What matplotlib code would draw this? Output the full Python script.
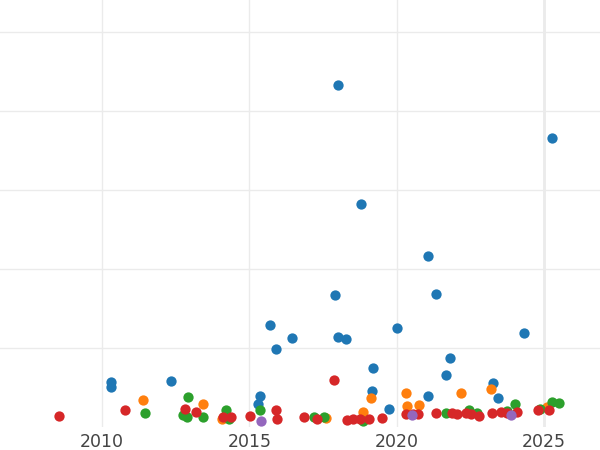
import matplotlib
matplotlib.use("Agg")
import matplotlib.pyplot as plt

# points per group: (year, value)
blue_x = [2018.01, 2025.26, 2018.80, 2021.05, 2017.92, 2021.33, 2015.70, 2020.00, 2024.32,
          2016.46, 2018.00, 2018.28, 2015.89, 2021.80, 2019.20, 2021.66, 2010.31, 2010.31,
          2012.35, 2023.28, 2019.17, 2015.35, 2023.45, 2021.06, 2015.28, 2019.73]
blue_y = [432.9, 366.2, 282.3, 216.1, 166.7, 168.0, 129.1, 125.7, 118.6,
          112.3, 114.3, 111.4, 98.4, 87.0, 74.3, 65.2, 56.6, 51.0,
          58.6, 55.3, 45.6, 39.2, 37.3, 39.2, 28.7, 22.8]

orange_x = [2011.40, 2013.43, 2014.08, 2019.14, 2018.86, 2017.61, 2020.32, 2020.34,
            2020.76, 2022.17, 2023.19, 2025.09]
orange_y = [33.8, 28.7, 10.5, 36.1, 19.4, 11.8, 43.0, 27.0,
            27.5, 43.3, 47.5, 25.7]

green_x = [2011.47, 2012.91, 2012.76, 2012.89, 2013.43, 2014.21, 2014.31, 2015.37,
           2017.21, 2017.54, 2018.87, 2021.68, 2022.46, 2022.71, 2023.73, 2024.01,
           2024.86, 2025.28, 2025.51]
green_y = [17.7, 38.4, 15.6, 13.0, 13.0, 21.1, 9.7, 21.1,
           12.9, 13.0, 8.2, 18.0, 21.1, 18.1, 20.6, 28.5,
           23.2, 31.9, 30.0]

red_x = [2008.53, 2010.79, 2012.81, 2013.20, 2014.12, 2014.39, 2015.02, 2015.89,
         2015.95, 2016.85, 2017.31, 2017.88, 2018.32, 2018.52, 2018.75, 2019.06,
         2019.49, 2020.33, 2020.56, 2020.73, 2021.33, 2021.89, 2022.04, 2022.34,
         2022.52, 2022.78, 2023.24, 2023.54, 2023.75, 2024.07, 2024.78, 2025.17]
red_y = [13.9, 21.1, 23.2, 19.4, 12.7, 12.7, 13.5, 21.1,
         10.1, 13.0, 10.1, 59.2, 9.2, 9.9, 10.1, 10.4,
         11.0, 16.8, 16.8, 16.8, 17.7, 17.3, 16.1, 17.3,
         16.1, 13.9, 17.3, 18.7, 17.3, 19.0, 21.5, 20.9]

purple_x = [2015.39, 2020.51, 2023.88]
purple_y = [8.0, 14.9, 15.6]

groups = [
    (blue_x, blue_y, "#1f77b4"),
    (orange_x, orange_y, "#ff7f0e"),
    (green_x, green_y, "#2ca02c"),
    (red_x, red_y, "#d62728"),
    (purple_x, purple_y, "#9467bd"),
]

fig = plt.figure(figsize=(6, 4.5), dpi=100)
ax = fig.add_axes([0, 1 - 427 / 450, 1, 427 / 450])

for xs, ys, c in groups:
    ax.scatter(xs, ys, s=55, color=c, linewidths=0, zorder=3)

ax.set_xlim(2006.54, 2026.90)
ax.set_ylim(0, 540.5)
ax.set_xticks([2010, 2015, 2020, 2025])
ax.set_yticks([100, 200, 300, 400, 500])
ax.set_yticklabels([])
ax.grid(True, color="#ebebeb", linewidth=1.0, zorder=0)
ax.axvline(2025, color="#ebebeb", linewidth=2.0, zorder=0)
for s in ax.spines.values():
    s.set_visible(False)
ax.tick_params(axis="both", length=0)
ax.tick_params(axis="x", labelsize=12.5, labelcolor="#444444", pad=4)

fig.savefig("out.png", dpi=100)
